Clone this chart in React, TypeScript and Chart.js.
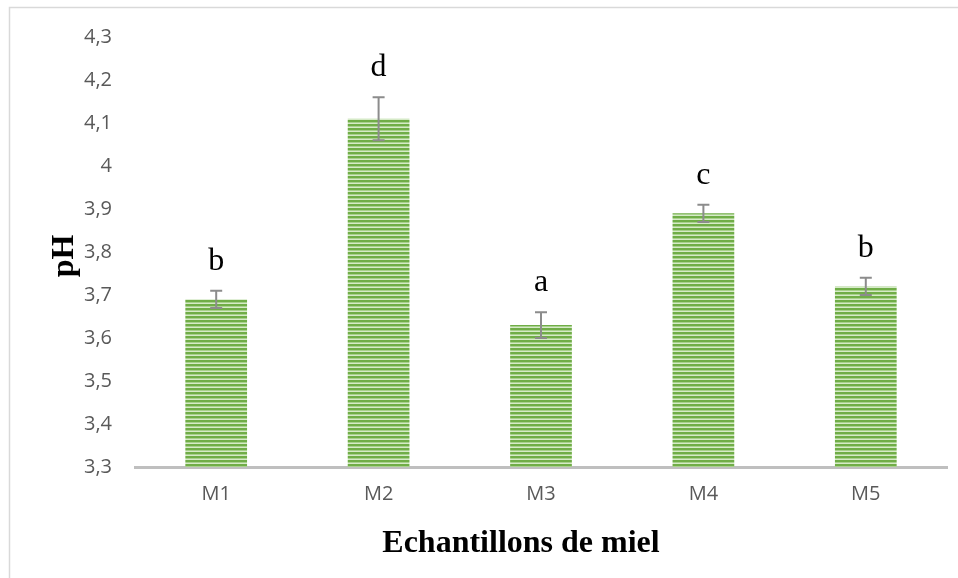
import React, { useEffect, useRef } from "react";
import { Chart, registerables } from "chart.js";

Chart.register(...registerables);

const categories = ["M1", "M2", "M3", "M4", "M5"];
const phValues = [3.69, 4.11, 3.63, 3.89, 3.72];
const phErrors = [0.02, 0.05, 0.03, 0.02, 0.02];
const groupLetters = ["b", "d", "a", "c", "b"];
const yTickValues = [3.3, 3.4, 3.5, 3.6, 3.7, 3.8, 3.9, 4.0, 4.1, 4.2, 4.3];
const xTitle = "Echantillons de miel";
const yTitle = "pH";

function makePattern(): CanvasPattern | string {
  const c = document.createElement("canvas");
  c.width = 8;
  c.height = 4;
  const ctx = c.getContext("2d");
  if (!ctx) return "#8cc168";
  ctx.fillStyle = "#d6eac8";
  ctx.fillRect(0, 0, 8, 4);
  ctx.fillStyle = "#70ad47";
  ctx.fillRect(0, 0, 8, 2);
  ctx.fillStyle = "#a8d18c";
  ctx.fillRect(0, 2, 8, 1);
  const p = ctx.createPattern(c, "repeat");
  return p || "#8cc168";
}

const decorPlugin = {
  id: "decor",
  beforeDraw(chart: any) {
    const ctx = chart.ctx;
    ctx.save();
    ctx.strokeStyle = "#d9d9d9";
    ctx.lineWidth = 1.5;
    ctx.beginPath();
    ctx.moveTo(9.5, chart.height);
    ctx.lineTo(9.5, 7.5);
    ctx.lineTo(chart.width, 7.5);
    ctx.stroke();
    ctx.restore();
  },
  afterDraw(chart: any) {
    const ctx = chart.ctx;
    const area = chart.chartArea;
    ctx.save();
    ctx.fillStyle = "#000000";
    ctx.font = "bold 32px 'Liberation Serif', serif";
    ctx.textAlign = "center";
    ctx.textBaseline = "alphabetic";
    ctx.fillText(xTitle, 521, 552);
    ctx.translate(65, (area.top + area.bottom) / 2 + 4);
    ctx.rotate(-Math.PI / 2);
    ctx.textBaseline = "middle";
    ctx.fillText(yTitle, 0, 0);
    ctx.restore();
  },
  afterDatasetsDraw(chart: any) {
    const ctx = chart.ctx;
    const xs = chart.scales.x;
    const ys = chart.scales.y;
    ctx.save();
    phValues.forEach((v, i) => {
      const x = xs.getPixelForValue(i);
      const yTop = ys.getPixelForValue(v + phErrors[i]);
      const yBot = ys.getPixelForValue(v - phErrors[i]);
      ctx.strokeStyle = "#8c8c8c";
      ctx.lineWidth = 2;
      ctx.beginPath();
      ctx.moveTo(x, yTop);
      ctx.lineTo(x, yBot);
      ctx.moveTo(x - 6, yTop);
      ctx.lineTo(x + 6, yTop);
      ctx.moveTo(x - 6, yBot);
      ctx.lineTo(x + 6, yBot);
      ctx.stroke();
      ctx.fillStyle = "#000000";
      ctx.font = "32px 'Liberation Serif', 'DejaVu Serif', serif";
      ctx.textAlign = "center";
      ctx.textBaseline = "alphabetic";
      ctx.fillText(groupLetters[i], x, yTop - 21);
    });
    ctx.restore();
  },
};

export default function App() {
  const ref = useRef<HTMLCanvasElement | null>(null);
  useEffect(() => {
    document.body.style.margin = "0";
    const canvas = ref.current;
    if (!canvas) return;
    const chart = new Chart(canvas, {
      type: "bar",
      data: {
        labels: categories,
        datasets: [
          {
            data: phValues,
            backgroundColor: makePattern() as any,
            borderWidth: 0,
            categoryPercentage: 1,
            barPercentage: 0.38,
            base: 3.3,
          },
        ],
      },
      options: {
        animation: false,
        responsive: false,
        maintainAspectRatio: false,
        layout: { padding: { left: 9, right: 11, top: 37, bottom: 0 } },
        plugins: { legend: { display: false }, tooltip: { enabled: false } },
        scales: {
          x: {
            grid: { display: false },
            border: { display: true, color: "#bfbfbf", width: 3 },
            ticks: {
              color: "#595959",
              font: { family: "'Open Sans', sans-serif", size: 20 },
              padding: 7,
            },
            afterFit(scale: any) {
              scale.height = 111;
            },
          },
          y: {
            min: 3.3,
            max: 4.3,
            grid: { display: false },
            border: { display: false },
            afterBuildTicks(scale: any) {
              scale.ticks = yTickValues.map((v) => ({ value: v }));
            },
            ticks: {
              color: "#595959",
              font: { family: "'Open Sans', sans-serif", size: 20 },
              padding: 15,
              callback: (v: any) => {
                const n = Number(v);
                return (Math.round(n * 10) / 10).toString().replace(".", ",");
              },
            },
            afterFit(scale: any) {
              scale.width = 126;
            },
          },
        },
      },
      plugins: [decorPlugin],
    });
    return () => chart.destroy();
  }, []);
  return (
    <div style={{ width: 958, height: 578 }}>
      <canvas ref={ref} width={958} height={578} style={{ display: "block" }} />
    </div>
  );
}
